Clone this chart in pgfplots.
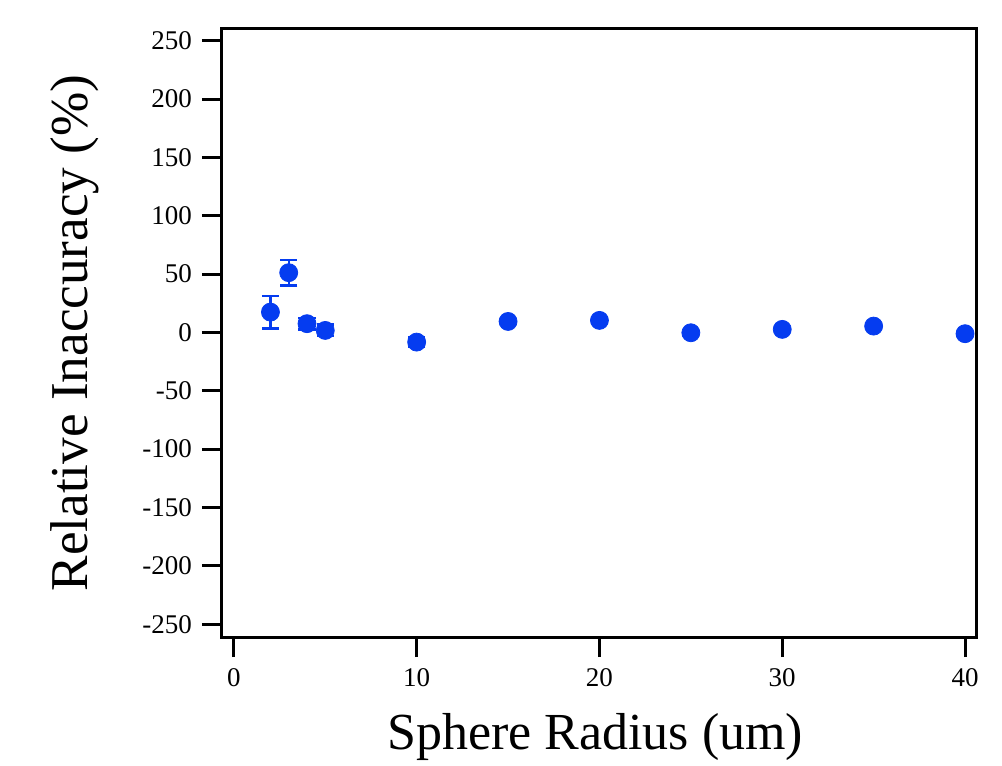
\documentclass[border=0pt]{standalone}
\usepackage{fontspec}
\setmainfont{Liberation Serif}
\usepackage{pgfplots}
\pgfplotsset{compat=1.18}
\definecolor{ptblue}{RGB}{5,60,240}
\pgfplotstableread{
x y e
2 17.4 14
3 51.2 11
4 7.5 5
5 1.7 5
10 -8.3 4
15 9.4 0
20 10.3 0
25 -0.3 0
30 2.6 0
35 5.4 0
40 -1.1 0
}\datatable
\begin{document}
\begin{tikzpicture}
\path[use as bounding box] (-111pt,-64.5pt) rectangle (390pt,318.5pt);
\begin{axis}[
  at={(0,0)}, anchor=south west,
  width=377pt, height=304pt, scale only axis,
  xmin=-0.65, xmax=40.6, ymin=-261, ymax=260,
  axis line style={line width=1.5pt},
  xtick={0,10,20,30,40},
  ytick={-250,-200,-150,-100,-50,0,50,100,150,200,250},
  tick align=outside, major tick length=10pt,
  tick style={line width=1.5pt, black},
  xtick pos=bottom, ytick pos=left,
  /pgf/number format/assume math mode=true,
  ticklabel style={font=\fontsize{13.5}{15}\selectfont},
  xticklabel style={yshift=-2pt},
  yticklabel style={xshift=-1.5pt},
  xlabel={Sphere Radius (um)},
  ylabel={Relative Inaccuracy (\%)},
  label style={font=\fontsize{26}{30}\selectfont},
  xlabel style={at={(axis description cs:0.495,-0.165)}, anchor=center},
  ylabel style={at={(axis description cs:-0.195,0.5)}, anchor=center, font=\fontsize{26.6}{30}\selectfont},
  clip=false,
]
\addplot[only marks, mark=*, color=ptblue, mark options={fill=ptblue, draw=ptblue}, mark size=4.5pt,
  error bars/.cd, y dir=both, y explicit,
  error bar style={line width=1.2pt, color=ptblue},
  error mark options={rotate=90, mark size=4.3pt, line width=1.2pt, color=ptblue}]
  table[x=x, y=y, y error=e] {\datatable};
\end{axis}
\end{tikzpicture}
\end{document}
